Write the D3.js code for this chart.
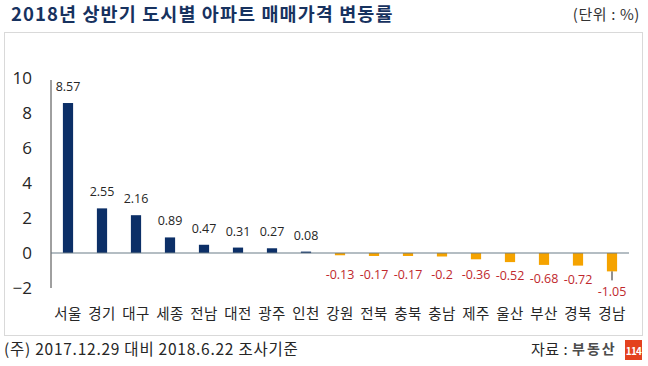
<!DOCTYPE html>
<html>
<head>
<meta charset="utf-8">
<script src="https://cdn.jsdelivr.net/npm/d3@7"></script>
<style>
  body { margin: 0; background: #fff; }
  svg { display: block; font-family: "Noto Sans CJK KR", "Noto Sans", sans-serif; }
</style>
</head>
<body>
<div id="chart"></div>
<script>
// 2018 H1 apartment sale price change by city (%)
var cities = ['서울', '경기', '대구', '세종', '전남', '대전', '광주', '인천', '강원',
  '전북', '충북', '충남', '제주', '울산', '부산', '경북', '경남'];
var changes = [8.57, 2.55, 2.16, 0.89, 0.47, 0.31, 0.27, 0.08, -0.13,
  -0.17, -0.17, -0.2, -0.36, -0.52, -0.68, -0.72, -1.05];
var yTicks = [-2, 0, 2, 4, 6, 8, 10];

var width = 648, height = 366;
var margin = {top: 78, right: 19, bottom: 78, left: 51};

var svg = d3.select('#chart').append('svg')
  .attr('width', width)
  .attr('height', height);

// frame
svg.append('rect')
  .attr('x', 4.5).attr('y', 32.5)
  .attr('width', 638).attr('height', 303)
  .attr('fill', 'none')
  .attr('stroke', '#d9d9d9');

// headings
svg.append('text')
  .attr('x', 11).attr('y', 21)
  .attr('font-size', 18.5).attr('font-weight', 'bold')
  .attr('letter-spacing', 1.1)
  .attr('fill', '#17325f')
  .text('2018년 상반기 도시별 아파트 매매가격 변동률');

svg.append('text')
  .attr('x', 640).attr('y', 20)
  .attr('text-anchor', 'end')
  .attr('font-size', 15).attr('letter-spacing', 0.6)
  .attr('fill', '#333')
  .text('(단위 : %)');

var x = d3.scaleBand()
  .domain(cities)
  .range([margin.left, width - margin.right])
  .paddingInner(0.7)
  .paddingOuter(0.35);

var y = d3.scaleLinear()
  .domain([-2, 10])
  .range([288, margin.top]);

var y0 = y(0);

// y axis
var yAxis = svg.append('g')
  .attr('transform', 'translate(' + margin.left + ',0)')
  .call(d3.axisLeft(y).tickValues(yTicks).tickSize(0).tickPadding(19));
yAxis.select('.domain').attr('stroke', '#404040').attr('d', 'M0,' + (y(10) + 2) + 'V' + y(-2));
yAxis.selectAll('text')
  .attr('font-size', 17).attr('fill', '#262626')
  .attr('font-family', '"Open Sans", "Noto Sans", sans-serif');

// bars
svg.append('g').selectAll('rect')
  .data(changes)
  .join('rect')
  .attr('x', function(d, i) { return x(cities[i]); })
  .attr('width', x.bandwidth())
  .attr('y', function(d) { return d >= 0 ? y(d) : y0; })
  .attr('height', function(d) { return Math.max(1.5, Math.abs(y(d) - y0)); })
  .attr('fill', function(d) { return d >= 0 ? '#0c2f67' : '#f5a300'; });

// zero baseline
svg.append('line')
  .attr('x1', margin.left).attr('x2', width - margin.right)
  .attr('y1', y0).attr('y2', y0)
  .attr('stroke', '#6b7d88').attr('stroke-width', 1.2);

// value labels
function labelY(d) {
  if (d >= 0) return y(d) - 12;
  if (d < -1) return y(d) + 25;
  return Math.max(y0 + 26, y(d) + 18);
}

svg.append('g').selectAll('line')
  .data(changes.filter(function(d) { return d < -1; }))
  .join('line')
  .attr('x1', function(d) { return x(cities[changes.indexOf(d)]) + x.bandwidth() / 2; })
  .attr('x2', function(d) { return x(cities[changes.indexOf(d)]) + x.bandwidth() / 2; })
  .attr('y1', function(d) { return y(d); })
  .attr('y2', function(d) { return y(d) + 9; })
  .attr('stroke', '#222');

svg.append('g').selectAll('text')
  .data(changes)
  .join('text')
  .attr('x', function(d, i) { return x(cities[i]) + x.bandwidth() / 2; })
  .attr('y', labelY)
  .attr('text-anchor', 'middle')
  .attr('font-size', 12.5)
  .attr('font-family', '"Open Sans", "Noto Sans", sans-serif')
  .attr('fill', function(d) { return d >= 0 ? '#262626' : '#c0282d'; })
  .text(function(d) { return d; });

// category labels
svg.append('g').selectAll('text')
  .data(cities)
  .join('text')
  .attr('x', function(d) { return x(d) + x.bandwidth() / 2; })
  .attr('y', 319)
  .attr('text-anchor', 'middle')
  .attr('font-size', 14.5)
  .attr('letter-spacing', 0.3)
  .attr('fill', '#262626')
  .text(function(d) { return d; });

// footnote
svg.append('text')
  .attr('x', 4).attr('y', 355)
  .attr('font-size', 15.5).attr('letter-spacing', 0.75)
  .attr('fill', '#262626')
  .text('(주) 2017.12.29 대비 2018.6.22 조사기준');

svg.append('text')
  .attr('x', 531).attr('y', 355)
  .attr('font-size', 15).attr('letter-spacing', 0.5)
  .attr('fill', '#262626')
  .text('자료 :');

svg.append('text')
  .attr('x', 572).attr('y', 354)
  .attr('font-size', 14).attr('font-weight', 'bold')
  .attr('letter-spacing', 2)
  .attr('fill', '#4d4d4d')
  .text('부동산');

svg.append('rect')
  .attr('x', 625).attr('y', 340)
  .attr('width', 17).attr('height', 20)
  .attr('fill', '#e4411f');

svg.append('text')
  .attr('x', 633.5).attr('y', 354.5)
  .attr('text-anchor', 'middle')
  .attr('font-size', 10).attr('font-weight', 'bold')
  .attr('letter-spacing', -0.8)
  .attr('fill', '#fff')
  .text('114');
</script>
</body>
</html>
